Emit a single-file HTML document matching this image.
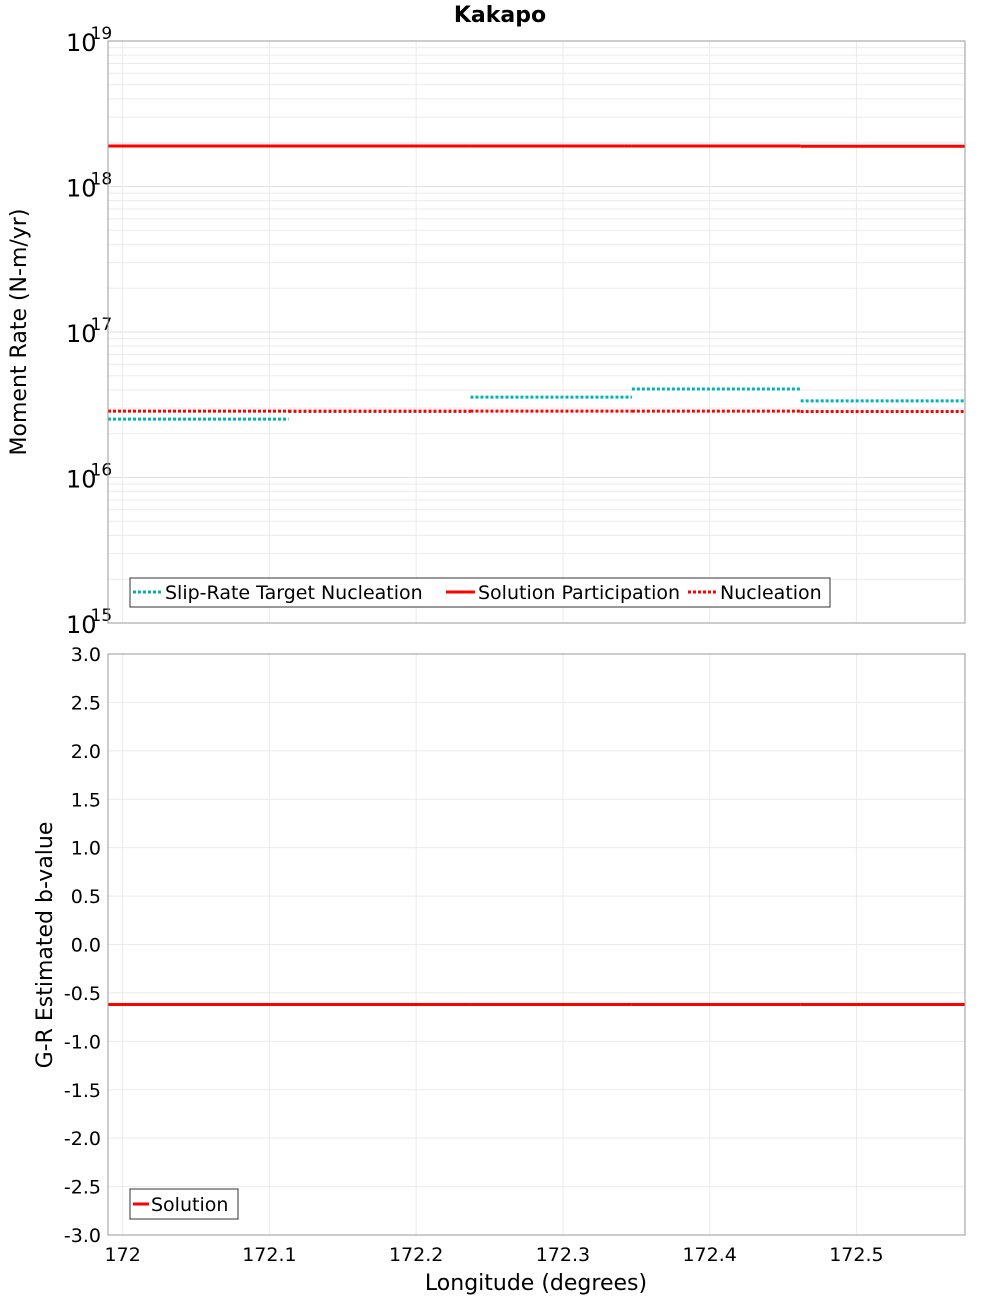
<!DOCTYPE html>
<html><head><meta charset="utf-8"><style>
body{margin:0;background:#fff;}
svg{display:block;font-family:"DejaVu Sans","Liberation Sans",sans-serif;}
</style></head><body>
<svg id="c" width="1000" height="1300" xmlns="http://www.w3.org/2000/svg">
<text x="500" y="22" text-anchor="middle" font-size="22" font-weight="bold">Kakapo</text>
<text transform="translate(26,332) rotate(-90)" text-anchor="middle" font-size="22">Moment Rate (N-m/yr)</text>
<text transform="translate(52,945) rotate(-90)" text-anchor="middle" font-size="22">G-R Estimated b-value</text>
<text x="536" y="1290" text-anchor="middle" font-size="22">Longitude (degrees)</text>
<g id="topg"></g><g id="botg"></g>
</svg>
<script>
const xTicks=[172,172.1,172.2,172.3,172.4,172.5];
const segStarts=[171.99,172.113,172.237,172.347,172.462];
const segEnds=[172.113,172.237,172.347,172.462,172.574];
const targetNucleation=[2.52e16,2.84e16,3.57e16,4.06e16,3.36e16];
const solutionParticipation=[1.90e18,1.90e18,1.90e18,1.90e18,1.89e18];
const nucleation=[2.86e16,2.86e16,2.86e16,2.86e16,2.84e16];
const bValues=[-0.62,-0.62,-0.62,-0.62,-0.62];
const decades=[15,16,17,18,19];
const bTicks=[-3,-2.5,-2,-1.5,-1,-0.5,0,0.5,1,1.5,2,2.5,3];

const NS="http://www.w3.org/2000/svg";
const L=108,R=965,XMIN=171.99,XMAX=172.574;
const T1=41,B1=623,T2=654,B2=1235;
const xs=v=>L+(v-XMIN)/(XMAX-XMIN)*(R-L);
const ys1=v=>B1-(Math.log10(v)-15)/4*(B1-T1);
const ys2=v=>B2-(v+3)/6*(B2-T2);
function mk(p,tag,a,txt){const e=document.createElementNS(NS,tag);for(const k in a)e.setAttribute(k,a[k]);if(txt!==undefined)e.textContent=txt;p.appendChild(e);return e;}
const topG=document.getElementById('topg'),botG=document.getElementById('botg');

for(let d=15;d<19;d++)for(let m=2;m<=9;m++){const y=ys1(m*Math.pow(10,d));
 const g=mk(topG,'line',{x1:L,x2:R,y1:y,y2:y,stroke:'#ebebeb','stroke-width':1});
 
 }
decades.forEach(d=>{const y=ys1(Math.pow(10,d));
 const g=mk(topG,'line',{x1:L,x2:R,y1:y,y2:y,stroke:'#e0e0e0','stroke-width':1});
 
 
 const t=mk(topG,'text',{x:66,y:y+10,'text-anchor':'start','font-size':24});
 
 
 t.textContent='10';
 mk(t,'tspan',{dx:-6,dy:-12,'font-size':17},String(d));});
xTicks.forEach(v=>{const x=xs(v);
 const g=mk(topG,'line',{x1:x,x2:x,y1:T1,y2:B1,stroke:'#ebebeb'});
 
 
 const g2=mk(botG,'line',{x1:x,x2:x,y1:T2,y2:B2,stroke:'#ebebeb'});
 
 
 const t=mk(botG,'text',{x:x,y:1261,'text-anchor':'middle','font-size':19},String(v));
 
 });
bTicks.forEach(v=>{const y=ys2(v);
 const g=mk(botG,'line',{x1:L,x2:R,y1:y,y2:y,stroke:'#ebebeb'});
 
 
 const t=mk(botG,'text',{x:101,y:y+7,'text-anchor':'end','font-size':19},v.toFixed(1));
 
 });

function series(p,arr,ysc,color,dash,name){arr.forEach((v,i)=>{const y=ysc(v);
 const a={x1:xs(segStarts[i]),x2:xs(segEnds[i]),y1:y,y2:y,stroke:color,'stroke-width':3};
 if(dash)a['stroke-dasharray']='3,2';
 const l=mk(p,'line',a);
 
 });}
series(topG,targetNucleation,ys1,'#00b4b4',true,'slip-rate-target-nucleation-segment');
series(topG,nucleation,ys1,'#ff0000',true,'nucleation-segment');
series(topG,solutionParticipation,ys1,'#ff0000',false,'solution-participation-segment');
series(botG,bValues,ys2,'#ff0000',false,'b-value-segment');

const f1=mk(topG,'rect',{x:L,y:T1,width:R-L,height:B1-T1,fill:'none',stroke:'#999'});


const f2=mk(botG,'rect',{x:L,y:T2,width:R-L,height:B2-T2,fill:'none',stroke:'#999'});



const lg=mk(topG,'g',{});


mk(lg,'rect',{x:130,y:578,width:700,height:29,fill:'#fff',stroke:'#333'});
[[133,'#00b4b4',true,'Slip-Rate Target Nucleation'],[446,'#ff0000',false,'Solution Participation'],[688,'#ff0000',true,'Nucleation']].forEach(e=>{
 const a={x1:e[0],x2:e[0]+29,y1:592,y2:592,stroke:e[1],'stroke-width':3};if(e[2])a['stroke-dasharray']='3,2';
 const l=mk(lg,'line',a);
 
 
 const t=mk(lg,'text',{x:e[0]+32,y:599,'font-size':19},e[3]);
 
 });
const lg2=mk(botG,'g',{});


mk(lg2,'rect',{x:130,y:1189,width:108,height:30,fill:'#fff',stroke:'#333'});
const l2=mk(lg2,'line',{x1:133,x2:149,y1:1204,y2:1204,stroke:'#ff0000','stroke-width':3});


const t2=mk(lg2,'text',{x:151,y:1211,'font-size':19},'Solution');


</script>
</body></html>
